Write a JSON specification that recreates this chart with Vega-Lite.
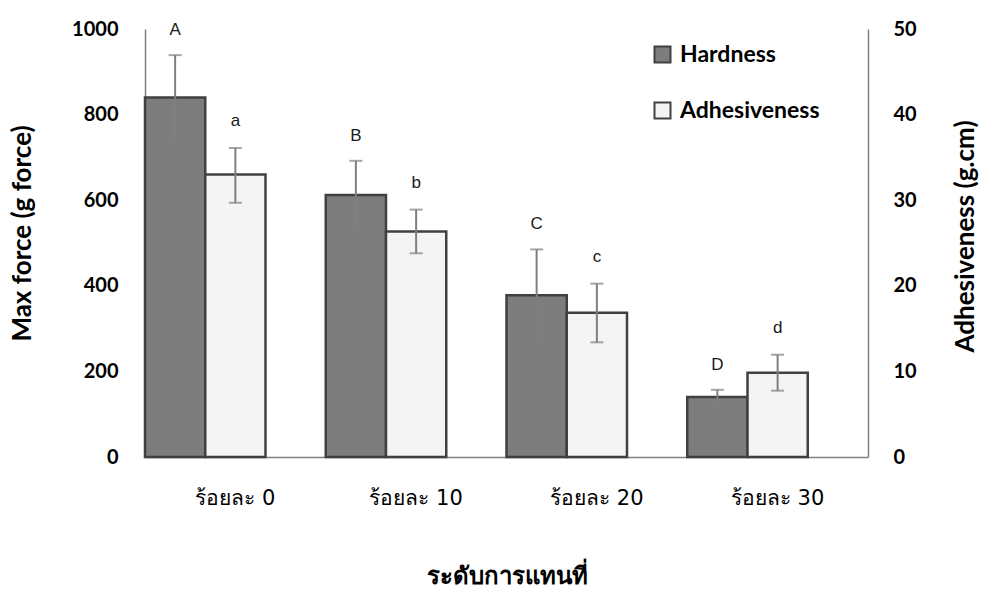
{
  "$schema": "https://vega.github.io/schema/vega-lite/v6.json",
  "width": 723,
  "height": 428,
  "autosize": {"type": "none"},
  "padding": {"left": 145, "top": 29, "right": 115, "bottom": 136},
  "background": "white",
  "config": {
    "view": {"stroke": null},
    "font": "Lato",
    "axis": {"grid": false, "ticks": false, "domainColor": "#808080", "domainWidth": 1.5, "labelColor": "#000", "titleColor": "#000"}
  },
  "data": {
    "values": [
      {"group": "ร้อยละ 0", "series": "Hardness", "value": 840, "lo": 741, "hi": 939, "letter": "A"},
      {"group": "ร้อยละ 10", "series": "Hardness", "value": 612, "lo": 532, "hi": 692, "letter": "B"},
      {"group": "ร้อยละ 20", "series": "Hardness", "value": 378, "lo": 271, "hi": 485, "letter": "C"},
      {"group": "ร้อยละ 30", "series": "Hardness", "value": 140, "lo": 123, "hi": 157, "letter": "D"},
      {"group": "ร้อยละ 0", "series": "Adhesiveness", "value": 33, "lo": 29.7, "hi": 36.1, "letter": "a"},
      {"group": "ร้อยละ 10", "series": "Adhesiveness", "value": 26.35, "lo": 23.8, "hi": 28.9, "letter": "b"},
      {"group": "ร้อยละ 20", "series": "Adhesiveness", "value": 16.85, "lo": 13.4, "hi": 20.25, "letter": "c"},
      {"group": "ร้อยละ 30", "series": "Adhesiveness", "value": 9.85, "lo": 7.75, "hi": 11.95, "letter": "d"}
    ]
  },
  "encoding": {
    "x": {
      "field": "group", "type": "nominal", "sort": null,
      "scale": {"paddingInner": 0, "paddingOuter": 0},
      "axis": {"title": "ระดับการแทนที่", "labelAngle": 0, "labelFontSize": 21, "labelFont": "DejaVu Sans", "labelPadding": 30, "titleFontSize": 24, "titleFontWeight": "bold", "titleFont": "DejaVu Sans", "titleX": 361.5, "titleY": 119, "titleBaseline": "middle"}
    },
    "xOffset": {"field": "series", "type": "nominal", "scale": {"domain": ["Hardness", "Adhesiveness", "blank"], "paddingInner": 0, "paddingOuter": 0}}
  },
  "layer": [
    {
      "transform": [{"filter": "datum.series == 'Hardness'"}],
      "encoding": {
        "y": {"field": "value", "type": "quantitative", "scale": {"domain": [0, 1000]},
          "axis": {"title": "Max force (g force)", "orient": "left", "values": [0, 200, 400, 600, 800, 1000], "format": "d", "labelFontSize": 20, "labelFontWeight": "bold", "labelPadding": 27, "titleFontSize": 26, "titleFontWeight": "bold", "titleX": -123, "titleY": 204, "titleAngle": -90, "titleAlign": "center", "titleBaseline": "middle"}}
      },
      "layer": [
        {"mark": {"type": "bar", "stroke": "#404040", "strokeWidth": 2.5},
          "encoding": {"color": {"field": "series", "type": "nominal", "scale": {"domain": ["Hardness", "Adhesiveness"], "range": ["#7d7d7d", "#f4f4f4"]},
            "legend": {"title": null, "orient": "none", "legendX": 506, "legendY": 14, "symbolType": "square", "symbolSize": 256, "symbolStrokeColor": "#404040", "symbolStrokeWidth": 2, "labelFontSize": 23, "labelFontWeight": "bold", "labelColor": "#000", "rowPadding": 31, "labelOffset": 6}}}},
        {"mark": {"type": "rule", "color": "#7f7f7f", "strokeWidth": 2}, "encoding": {"y": {"field": "lo", "type": "quantitative"}, "y2": {"field": "hi"}}},
        {"mark": {"type": "tick", "color": "#7f7f7f", "thickness": 2, "size": 13}, "encoding": {"y": {"field": "lo", "type": "quantitative"}}},
        {"mark": {"type": "tick", "color": "#7f7f7f", "thickness": 2, "size": 13}, "encoding": {"y": {"field": "hi", "type": "quantitative"}}},
        {"mark": {"type": "text", "dy": -25, "baseline": "middle", "fontSize": 17, "font": "Liberation Sans", "color": "#1a1a1a"}, "encoding": {"y": {"field": "hi", "type": "quantitative"}, "text": {"field": "letter"}}}
      ]
    },
    {
      "transform": [{"filter": "datum.series == 'Adhesiveness'"}],
      "encoding": {
        "y": {"field": "value", "type": "quantitative", "scale": {"domain": [0, 50]},
          "axis": {"title": "Adhesiveness (g.cm)", "orient": "right", "values": [0, 10, 20, 30, 40, 50], "labelFontSize": 20, "labelFontWeight": "bold", "labelPadding": 25, "titleFontSize": 26, "titleFontWeight": "bold", "titleX": 97, "titleY": 207, "titleAngle": -90, "titleAlign": "center", "titleBaseline": "middle"}}
      },
      "layer": [
        {"mark": {"type": "bar", "stroke": "#404040", "strokeWidth": 2.5},
          "encoding": {"color": {"field": "series", "type": "nominal", "scale": {"domain": ["Hardness", "Adhesiveness"], "range": ["#7d7d7d", "#f4f4f4"]}}}},
        {"mark": {"type": "rule", "color": "#7f7f7f", "strokeWidth": 2}, "encoding": {"y": {"field": "lo", "type": "quantitative"}, "y2": {"field": "hi"}}},
        {"mark": {"type": "tick", "color": "#7f7f7f", "thickness": 2, "size": 13}, "encoding": {"y": {"field": "lo", "type": "quantitative"}}},
        {"mark": {"type": "tick", "color": "#7f7f7f", "thickness": 2, "size": 13}, "encoding": {"y": {"field": "hi", "type": "quantitative"}}},
        {"mark": {"type": "text", "dy": -27, "baseline": "middle", "fontSize": 17, "font": "Liberation Sans", "color": "#1a1a1a"}, "encoding": {"y": {"field": "hi", "type": "quantitative"}, "text": {"field": "letter"}}}
      ]
    }
  ],
  "resolve": {"scale": {"y": "independent"}, "axis": {"y": "independent"}}
}
